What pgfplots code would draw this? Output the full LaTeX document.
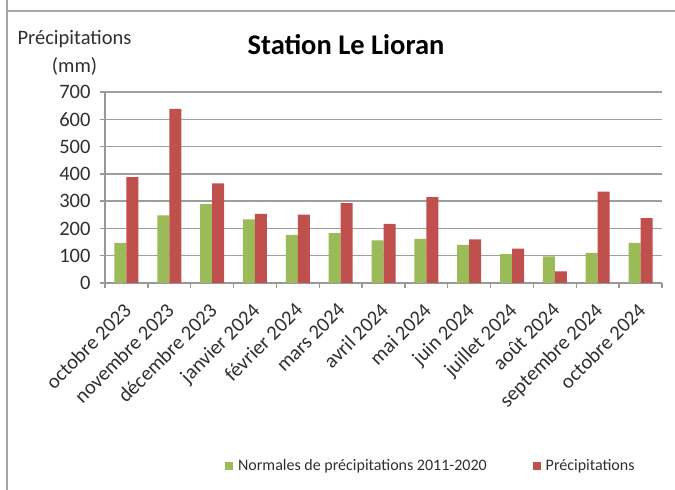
\documentclass[border=0pt]{standalone}
\usepackage{fontspec}
\setmainfont{Carlito}
\usepackage{pgfplots}
\pgfplotsset{compat=1.18}
\definecolor{cgreen}{HTML}{9BBB59}
\definecolor{cred}{HTML}{C0504D}
\definecolor{ctext}{HTML}{303030}
\begin{document}
\begin{tikzpicture}
\useasboundingbox (0,0) rectangle (675bp,490bp);
\fill[white] (0,0) rectangle (675bp,490bp);
\draw[black!35, line width=1.6bp] (7bp,492bp) -- (7bp,479bp) -- (680bp,479bp);
\draw[black!35, line width=1.6bp] (7bp,479bp) -- (7bp,-2bp);
\node[font=\fontsize{20.5bp}{24bp}\selectfont, text=ctext] at (74.5bp,451bp) {Précipitations};
\node[font=\fontsize{20.5bp}{24bp}\selectfont, text=ctext] at (74.5bp,423.5bp) {(mm)};
\node[font=\fontsize{28.5bp}{32bp}\selectfont\bfseries, text=black] at (346bp,445bp) {Station Le Lioran};
\begin{axis}[
  at={(105bp,207bp)}, anchor=south west,
  scale only axis, width=557bp, height=191bp,
  ybar=0pt, bar width=12bp,
  xmin=-0.5, xmax=12.5, ymin=0, ymax=700,
  ytick={0,100,...,700},
  xtick={0,...,12},
  xticklabels={octobre 2023,novembre 2023,décembre 2023,janvier 2024,février 2024,mars 2024,avril 2024,mai 2024,juin 2024,juillet 2024,août 2024,septembre 2024,octobre 2024},
  minor xtick={-0.5,0.5,...,12.5},
  major x tick style={draw=none},
  axis x line*=bottom, axis y line*=left,
  axis line style={-, black!40, line width=1.4bp},
  tick style={black!40, line width=1.4bp},
  tick align=outside,
  major tick length=5bp, minor tick length=5bp,
  ymajorgrids, grid style={black!38, line width=1.4bp},
  /pgf/number format/assume math mode=true,
  tick label style={font=\fontsize{20.5bp}{24bp}\selectfont, text=ctext},
  yticklabel style={xshift=-6bp},
  xticklabel style={xshift=-4bp, yshift=-12bp, rotate=45, anchor=north east, inner sep=1bp},
  legend style={at={(0.585,-0.958)}, anchor=center, draw=none, fill=none,
    legend columns=2, font=\fontsize{16bp}{19bp}\selectfont, text=ctext,
    /tikz/every odd column/.append style={column sep=3bp},
    /tikz/every even column/.append style={column sep=44bp}},
  legend image code/.code={\fill[#1,draw=none] (0bp,-4bp) rectangle (8bp,4bp);},
]
\addplot[fill=cgreen, draw=none] coordinates {(0,147) (1,248) (2,289) (3,233) (4,176) (5,183) (6,156) (7,162) (8,140) (9,106) (10,98) (11,110) (12,147)};
\addplot[fill=cred, draw=none] coordinates {(0,388) (1,638) (2,365) (3,253) (4,251) (5,293) (6,217) (7,315) (8,160) (9,126) (10,43) (11,335) (12,238)};
\legend{Normales de précipitations 2011-2020, Précipitations}
\end{axis}
\end{tikzpicture}
\end{document}
